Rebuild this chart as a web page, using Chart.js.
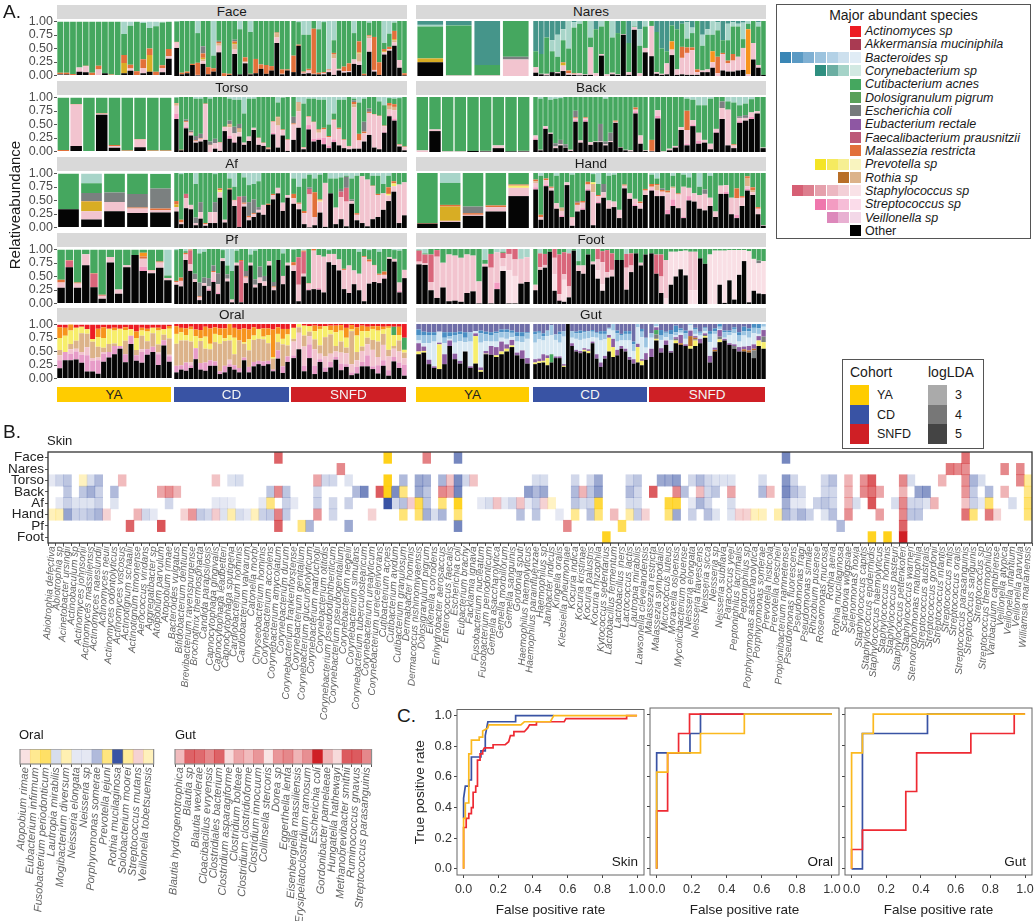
<!DOCTYPE html>
<html>
<head>
<meta charset="utf-8">
<script src="https://cdn.jsdelivr.net/npm/chart.js@4"></script>
<style>
    html, body { margin: 0; background: #fff; }
    #page { position: relative; width: 1035px; height: 922px; overflow: hidden; font-family: "Liberation Sans", Arial, sans-serif; color: #1a1a1a; }
    #page canvas { position: absolute; pointer-events: none; }
    .txt { position: absolute; white-space: nowrap; }
    .strip { position: absolute; background: #d9d9d9; text-align: center; font-size: 13.5px; line-height: 14px; height: 14px; }
    .coh { position: absolute; text-align: center; font-size: 13.5px; line-height: 16px; height: 15px; top: 387px; }
    .box { position: absolute; border: 1px solid #555; box-sizing: border-box; }
    .sw { position: absolute; }
</style>
</head>
<body>
<div id="page"></div>
<script>
// ---------- panel A data: percent per sample, groups are YA, CD, SNFD ----------
const faceOther = [[2,2,1,7,6,0,1,4,0,0,4,9,0,4,7,0,6,31], [51,3,5,20,1,22,3,8,43,0,2,40,3,23,3,5,13,4,10,60,3,10], [7,55,4,5,3,3,3,7,2,10,6,7,22,20,1,44,8,2,39,46,55,15,1]];
const faceStaph = [[1,0,0,8,11,0,10,0,0,0,0,4,0,10,0,0,8,5], [10,0,0,0,1,5,0,0,12,0,0,8,0,2,0,0,0,0,0,10,1,0], [0,0,2,5,1,0,2,3,30,2,3,2,8,6,0,25,3,0,4,3,6,14,0]];
const faceMal = [[2,3,2,0,1,5,7,0,2,1,15,7,8,16,12,7,5,13], [1,3,3,2,22,8,13,6,3,5,2,3,0,8,1,26,8,16,8,1,8,2], [30,2,2,3,82,3,2,2,2,1,8,14,0,20,3,2,60,23,4,4,15,0,4]];
const faceCory = [[0,0,0,0,0,0,0,0,0,0,23,8,0,3,12,9,2,0], [1,0,0,0,22,0,0,63,0,0,0,0,15,0,20,0,0,0,0,0,0,0], [0,2,25,25,0,15,2,88,35,0,0,0,22,0,0,3,0,0,40,23,3,0,0]];
const faceGold = [{10:19,14:31}, {5:3,11:2}, {13:2,18:2,20:2}];
const faceTan = [{}, {5:3,8:4,11:10,13:1,19:8}, {8:8,13:15,15:3,20:4}];
const faceGray = [{}, {5:13,8:2,11:3}, {}];

const torsoOther = [[0,10,0,68,7,0,8,1,0], [60,3,43,30,17,19,22,0,6,2,38,24,17,28,13,20,40,13,11,5,32,8,30,2], [22,44,5,41,19,22,14,7,18,12,7,5,6,6,19,31,8,5,35,65,57,10,3]];
const torsoStaph = [[0,77,0,2,3,1,14,0,1], [14,0,8,5,3,5,65,12,10,15,7,15,15,8,4,8,4,12,5,1,20,40,10,20], [28,30,3,15,30,10,15,15,35,30,15,5,75,15,15,40,60,60,10,10,15,3,6]];
const torsoMal = [[3,1,0,1,2,1,1,1,1], [1,1,2,1,1,1,1,1,0,1,1,1,0,1,0,0,0,1,1,2,1,1,1,1], [2,1,1,1,1,2,3,2,1,2,1,1,4,12,3,2,1,1,1,5,5,1,1]];
const torsoStrep = [{}, {0:10,2:3,11:6,12:2,20:3}, {3:8,4:5,5:3,6:12,7:5,8:5,18:2,19:2,20:4}];
const torsoGray = [{}, {2:3,3:3,4:8,5:8,7:6,8:8,11:6,12:12,13:8,21:0}, {0:12,12:3,14:18,15:6}];
const torsoTan = [{}, {0:4,11:5,13:6,21:15}, {1:15,5:4,12:6,19:7,20:6}];
const torsoCory = [[], [1,0,0,0,3,3,0,3,0,0,0,3,5,5,30,3,3,0,0,0,0,10,1,0], [0,10,12,3,3,5,5,50,30,5,5,0,3,10,3,0,0,8,15,2,3,2,0]];

const afOther = [[34,15,30,27,28], [30,7,36,34,5,17,4,9,9,55,10,70,40,2,39,14,20,28,24,42,52,63,31,55], [44,34,7,1,5,28,2,63,7,16,3,44,14,9,3,16,20,33,49,66,9,23]];
const afStaph = [[0,15,17,8,4], [8,3,18,8,4,12,3,20,20,10,5,0,10,0,5,5,5,5,18,0,8,10,15,5], [10,10,20,60,15,20,80,0,30,40,45,5,10,85,85,60,40,30,10,10,70,60]];
const afDark = [{}, {2:8,13:55}, {3:10,9:10,10:25}];
const afMal = [{1:1,3:2,4:3}, {0:6,1:5,6:2,9:3,11:2,12:1,14:2,15:3,16:2,19:2,20:2}, {0:8,1:2,2:4,4:45,5:2,12:3,15:1,16:2,18:12,19:4}];
const afGold = [{1:18}, {0:5}, {}];
const afYellow = [{}, {9:4}, {5:2,18:3,19:5}];
const afGray = [{1:15,2:18,3:25,4:37}, {4:10,5:18,8:18,14:12,15:25,16:25,17:5}, {3:3,9:5,10:20,11:3,13:0}];
const afCory = [{1:18,4:1}, {1:2,4:20,8:2,10:0,11:10,12:25,14:8,15:22,16:20,17:15}, [10,25,10,3,10,3,0,10,10,8,5,10,5,0,0,5,5,20,5,0,0,0]];

const pfOther = [[29,67,29,71,30,9,76,18,67,90,60,56,66,43], [35,32,80,60,40,7,33,24,40,18,78,41,3,70,3,38,70,30,38,33,70,25,80,36,70], [60,5,50,25,27,26,21,76,71,61,27,20,36,25,5,37,40,38,46,82,77,21,47]];
const pfStaph = [[10,0,8,20,0,5,10,8,4,0,15,5,10,4], [5,10,10,10,5,5,5,5,15,15,5,5,5,5,0,10,5,5,10,8,8,5,0,15,5], [10,30,5,10,70,60,65,15,20,20,35,50,25,30,80,40,30,15,5,3,5,15,15]];
const pfDark = [{1:12,4:25,5:1}, {3:25,14:75}, {1:50,2:40}];
const pfMal = [{0:5,1:1,2:2,4:1,5:1,10:4,11:1,12:2}, {0:2,1:6,2:3,3:2,5:2,8:2,14:2,15:2,21:2}, {0:6,2:2,3:1,4:3,10:2,14:2,15:4,16:1,17:2,18:6}];
const pfOrange = [{10:7}, {}, {}];
const pfStrep = [{10:8}, {3:2,7:3,8:3,9:3}, {3:2,5:3,18:2,21:3}];
const pfGray = [{}, {4:10,5:25,6:10,7:15,8:10,9:20,11:8,14:0,15:10,16:0,17:10,18:20,19:10,20:0,21:8}, {}];
const pfCory = [{13:48}, {0:2,2:4,3:2,5:8,6:5,10:2,11:30,12:40,13:3,16:10,17:3,23:8}, {0:1,2:3,7:2,13:5,15:2,17:5,20:2,21:3}];

const oralOther = [[19,34,34,35,29,13,13,9,31,39,45,55,30,64,33,29,44,49,25,61,31], [12,17,15,20,36,17,15,24,24,9,12,22,17,12,34,12,23,27,24,27,14,37,11,31], [38,54,14,38,9,31,13,21,35,16,22,7,10,23,23,18,10,24,6,32,20,6]];
const oralVeil = [[15,15,12,15,15,30,20,25,15,10,15,5,15,15,10,20,10,10,20,10,10], [12,8,15,5,20,12,15,10,8,5,12,5,8,8,5,10,8,6,8,6,3,15,12,10], [5,0,10,25,15,5,8,10,5,12,5,5,12,8,20,5,15,10,10,8,10,20]];
const oralStaph = [[9,0,8,5,5,15,5,5,3,0,0,0,0,0,0,5,0,0,3,0,3], [0,0,0,5,0,0,0,0,0,0,0,8,0,0,0,0,0,0,0,0,0,0,0,0], [25,30,35,15,30,10,20,15,10,20,20,15,12,20,20,30,15,28,25,15,20,12]];
const oralTan = [[10,0,10,15,35,25,30,20,8,15,5,0,25,0,10,25,15,25,15,10,30], [40,45,40,38,0,40,25,20,35,50,45,35,20,50,25,30,40,40,40,32,20,15,40,20], [5,10,20,8,18,15,35,35,10,20,10,60,15,8,12,18,28,20,12,5,20,10]];
const oralYellow = [[22,30,25,24,12,8,5,18,18,28,24,32,20,12,22,10,18,10,26,10,18], [18,15,10,22,22,5,22,10,15,16,5,10,30,0,3,20,8,18,5,15,3,15,10,20], [20,8,18,10,15,30,20,8,25,20,18,3,30,28,12,20,20,8,40,20,10,5]];
const oralOrange = [[20,15,12,0,0,0,0,15,20,0,5,0,5,0,12,5,5,0,5,0,5], [14,8,12,5,12,15,18,28,12,12,18,20,18,20,25,18,15,0,15,12,50,12,18,10], [0,0,0,0,10,5,0,8,12,10,18,8,15,10,8,5,8,5,3,0,15,0]];
const oralGreen = [{}, {}, {19:15,21:22}];

const naresOther = [[25,0,0,0], [6,3,1,7,5,9,2,2,1,2,2,0,37,0,3,2,75,2,84,0,43], [36,4,2,3,38,2,3,2,2,2,7,7,15,0,10,8,8,10,11,0,30,15,2]];
const naresStaph = [[0,1,1,30], [10,1,3,0,2,10,3,2,4,1,50,5,3,3,3,1,1,5,5,5,8], [55,3,2,20,10,10,30,40,45,5,3,5,10,5,30,15,20,25,40,3,30,5,0]];
const naresGold = [{0:7}, {5:5}, {}];
const naresGray = [{3:5}, {}, {}];
const naresOrange = [{}, {}, {4:15,12:20,19:82}];
const naresMal = [{}, {5:1,6:5,7:1}, {6:20,7:10,8:5,9:5,13:30,14:2,15:5,16:12}];
const naresCoryD = [[7,8,80,0], [55,60,30,35,25,15,0,2,0,0,0,15,0,0,0,22,0,40,0,15,0], [0,20,50,55,8,15,5,2,12,0,25,15,0,2,35,5,2,5,3,0,0,2,0]];
const naresCory = [[3,0,0,0], [0,0,0,20,40,20,50,10,5,0,30,0,10,0,30,0,0,0,10,30,10], [0,0,0,0,0,0,0,30,10,0,20,10,25,15,0,30,8,5,30,5,0,8,0]];

const backOther = [[0,38,0,0,2,1,7,1,1], [22,3,42,33,7,12,8,2,55,17,55,13,18,18,12,18,53,8,3,1,70,15,2], [1,61,0,3,8,40,12,47,15,17,5,35,60,12,7,53,57,60,70,7]];
const backStaph = [[3,3,1,1,0,1,5,0,1], [5,1,3,2,3,2,1,2,3,4,2,5,1,1,2,2,2,1,1,2,3,15,1], [1,10,1,3,3,5,25,8,15,5,10,5,20,65,5,6,5,8,4,1]];
const backMal = [{}, {8:2,10:2,16:2,20:4}, {0:20,6:35,14:2}];
const backStrep = [{}, {0:3,2:2,8:3,10:4,20:4}, {1:5,6:3,7:3,8:5,11:2,15:3,17:4}];
const backGray = [{}, {4:6,5:8,6:5,8:12,13:32,14:5,15:15}, {12:12,15:3,16:5}];
const backCory = [{}, {1:3,3:5,4:3,5:2,14:3}, {6:3,7:5,8:15,9:15,10:3,13:8,14:10,15:15,16:12,17:4}];

const handOther = [[8,11,22,30,58], [70,15,76,68,35,20,78,4,30,33,68,5,45,55,35,38,18,72,53,40,35,60], [68,58,58,25,40,36,18,50,48,35,32,40,20,62,62,25,18,40,68,60,25,4]];
const handStaph = [[0,2,2,8,15], [8,5,8,5,10,8,5,15,12,10,8,60,10,10,15,10,15,5,10,10,10,8], [5,10,8,30,20,25,55,15,15,25,30,15,10,15,12,30,30,15,5,5,10,1]];
const handStrep = [{}, {0:4,2:3,5:3,9:3,10:3,12:3,19:3}, {0:2,3:8,4:12,6:2,7:8,14:4,16:6,18:3}];
const handMal = [{0:1,1:3,2:3,3:3,4:2}, {0:3,1:4,2:3,3:2,7:1,8:4,9:3,10:5,12:2,17:2,20:3,21:3}, {0:5,1:2,2:3,3:3,5:2,16:18,17:3,18:3,19:5,20:3}];
const handGold = [{1:26}, {}, {}];
const handYellow = [{4:4}, {11:3}, {}];
const handTan = [{}, {0:3,5:6,11:15}, {1:10,3:2,4:3,18:15,19:4}];
const handGray = [{2:12}, {8:3,13:15}, {2:3,10:8}];
const handCory = [{1:18}, {1:5,4:5,7:3,11:2,12:20,14:5,15:3}, {0:3,1:10,4:5,6:3,7:8,9:25,11:5}];

const footOther = [[72,71,25,11,30,5,6,4,20,23,1,68,1,27,60,1,1,37,40], [25,62,66,95,24,6,4,12,97,60,55,90,72,46,24,48,50,80,80,26,58,92,70,90], [92,55,20,0,35,50,63,52,0,0,83,73,0,0,35,2,43,8,53,78,3,24,19,18]];
const footStaph = [[5,3,15,75,45,85,82,80,70,65,40,5,65,55,15,30,30,45,45], [10,5,5,0,30,10,10,20,0,10,15,0,5,20,40,10,12,0,0,40,12,0,5,0], [0,0,30,70,0,0,0,0,70,70,0,0,0,0,0,0,0,0,0,0,0,0,0,0]];
const footPale = [{14:8,15:60,16:50}, {4:30,6:40,13:15,14:12}, {3:10,4:60,5:45,6:33,7:45,8:25,9:25,12:90,13:97,14:62,15:95,16:55,17:90,18:45,19:20,20:93,21:58,22:55,23:60}];
const footStrep = [{13:12}, {5:2}, {}];
const footDark = [{0:20,1:16,2:50,3:12,12:25,14:10,15:60,16:60}, {1:25,2:20,4:40,5:72,6:40,7:60,13:30,14:20,15:40,16:30,19:25,20:22}, {1:35,2:40}];
const footCory = [{0:2,1:8,11:20,13:12,14:5,17:18,18:15}, {1:12,4:5,7:8,9:22,19:35}, {}];
const footGray = [{}, {4:5}, {22:5}];

const gutOther = [[45,48,27,20,18,27,60,36,28,50,20,28,13,45,44,40,45,50,58,43,37,28], [27,29,30,25,30,38,38,22,100,60,50,47,50,47,65,37,22,37,50,40,43,55,50,35,28,30,25,35], [40,70,48,62,48,65,62,60,55,60,65,75,30,50,67,70,62,55,50,50,48,38,60,55]];
const gutYellow = [{0:5,1:3,4:45,11:50,12:3,13:1,15:3,16:5,17:5,18:3}, {0:3,1:3,2:3,3:13,7:2,12:3,13:4,18:25,19:18,25:28,26:8}, {1:3,5:5,8:5,9:10,11:3,14:5,22:10,23:12}];
const gutPurple = [[15,8,8,3,3,18,10,10,5,0,3,5,5,5,16,15,18,8,10,5,15,10], [6,5,12,5,0,3,3,3,0,5,3,4,3,3,3,8,8,5,5,15,10,5,5,5,8,6,3,12], [15,5,8,8,3,3,15,3,10,3,8,3,12,4,12,3,3,3,8,5,8,8,8,12]];
const gutBlue1 = [[5,6,30,45,20,20,3,20,36,17,45,4,45,18,8,10,7,10,5,20,15,35], [30,35,25,35,35,30,25,50,0,10,20,20,17,20,8,30,40,30,10,15,15,10,15,30,15,30,40,10], [20,2,15,6,20,4,4,10,10,4,6,4,25,25,1,2,15,20,10,20,15,20,4,6]];
const gutBlue2 = [[10,14,15,12,0,10,5,14,12,8,17,0,17,12,12,15,10,12,8,10,10,10], [15,12,8,10,18,10,15,10,0,12,10,12,12,13,10,8,12,10,3,12,15,10,12,12,12,12,10,18], [8,5,8,8,10,5,5,10,8,8,5,5,15,5,5,10,5,8,12,8,12,10,10,5]];
const gutBlue3 = [[10,7,5,5,0,10,7,5,5,10,0,0,5,5,5,3,5,5,4,7,8,2], [5,3,5,0,0,0,5,0,0,0,3,5,2,0,3,2,5,5,0,5,5,2,5,5,5,5,5,0], [0,8,10,2,8,12,3,5,3,3,2,2,5,5,5,3,3,3,5,8,5,12,8,5]];
const gutGreen = [{}, {4:15,0:0}, {1:8}];
const gutBrown = [{}, {}, {6:3,8:18,9:3,13:3,19:4,20:4,21:3}];
const gutGray = [{}, {}, {1:8,5:3,9:2,11:2,14:5,17:5,21:14,23:10}];

// ---------- panel B data: [column, cohort, logLDA] per body site ----------
const skinSpecies = ["Abiotrophia defectiva","Abiotrophia sp","Acinetobacter ursingii","Actinobaculum sp","Actinomyces johnsonii","Actinomyces massiliensis","Actinomyces naeslundii","Actinomyces neuii","Actinomyces odontolyticus","Actinomyces viscosus","Actinotignum schaalii","Actinotignum timonense","Aerococcus viridans","Aggregatibacter sp","Atopobium parvulum","Atopobium rimae","Bacteroides vulgatus","Bifidobacterium dentium","Brevibacterium ravenspurgense","Brochothrix thermosphacta","Candida parapsilosis","Capnocytophaga gingivalis","Capnocytophaga leadbetteri","Capnocytophaga sputigena","Cardiobacterium hominis","Cardiobacterium valvarum","Catonella morbi","Chryseobacterium hominis","Corynebacterium accolens","Corynebacterium amycolatum","Corynebacterium durum","Corynebacterium frankenforstense","Corynebacterium genitalium","Corynebacterium glucuronolyticum","Corynebacterium matruchotii","Corynebacterium otitidis","Corynebacterium pseudodiphtheriticum","Corynebacterium pseudogenitalium","Corynebacterium negelii","Corynebacterium simulans","Corynebacterium tuberculostearicum","Corynebacterium urealyticum","Corynebacterium ureicelerivorans","Cutibacterium acnes","Cutibacterium avidum","Cutibacterium granulosum","Dermabacter hominis","Dermacoccus nishinomiyaensis","Dolosigranulum pigrum","Eikenella corrodens","Enhydrobacter aerosaccus","Enterococcus faecalis","Escherichia coli","Eubacterium brachy","Facklamia ignava","Fusobacterium nucleatum","Fusobacterium periodonticum","Gemella asaccharolytica","Gemella morbillorum","Gemella sanguinis","Gordonia sputi","Haemophilus haemolyticus","Haemophilus parainfluenzae","Haemophilus sp","Janibacter indicus","Kingella oralis","Klebsiella pneumoniae","Kocuria indica","Kocuria kristinae","Kocuria palustris","Kocuria rhizophila","Kytococcus sedentarius","Lactobacillus fermentum","Lactobacillus iners","Lactococcus lactis","Lautropia mirabilis","Lawsonella clevelandensis","Malassezia restricta","Malassezia sympodialis","Micrococcus luteus","Moraxella osloensis","Mycolicibacterium obuense","Neisseria elongata","Neisseria flavescens","Neisseria sicca","Neisseria sp","Neisseria subflava","Paracoccus yeei","Peptoniphilus lacrimalis","Peptoniphilus sp","Porphyromonas asaccharolytica","Porphyromonas somerae","Prevotella histicola","Prevotella loescheii","Propionibacterium namnetense","Pseudomonas fluorescens","Pseudomonas fragi","Pseudomonas simiae","Rhizobium pusense","Roseomonas mucosa","Rothia aeria","Rothia mucilaginosa","Scardovia wiggsiae","Selenomonas noxia","Staphylococcus capitis","Staphylococcus epidermidis","Staphylococcus haemolyticus","Staphylococcus hominis","Staphylococcus pasteuri","Staphylococcus pettenkoferi","Staphylococcus warneri","Stenotrophomonas maltophilia","Streptococcus australis","Streptococcus gordonii","Streptococcus infantis","Streptococcus mitis","Streptococcus oralis","Streptococcus parasanguinis","Streptococcus sanguinis","Streptococcus sp","Streptococcus thermophilus","Varibaculum cambriense","Veillonella atypica","Veillonella infantium","Veillonella parvula","Williamsia marianensis"];
const skinSites = ["Face","Nares","Torso","Back","Af","Hand","Pf","Foot"];
const faceCells = [[29,"S",4.1],[43,"Y",4.7],[48,"S",3.7],[52,"C",4.1],[94,"C",4.1],[117,"S",3.9]];
const naresCells = [[37,"S",3.6],[115,"S",3.8],[116,"S",3.6],[117,"S",3.5],[122,"S",3.6],[124,"S",3.6]];
const torsoCells = [[0,"C",2.4],[1,"C",2.75],[2,"C",3.0],[4,"Y",2.75],[5,"C",2.6],[6,"C",3.2],[9,"S",2.9],[21,"S",2.8],[23,"C",2.5],[24,"C",2.6],[34,"S",3.2],[35,"C",2.7],[36,"C",2.7],[38,"C",2.5],[43,"Y",4.7],[45,"C",3.2],[47,"C",3.5],[48,"C",3.4],[50,"C",3.3],[51,"S",2.8],[52,"C",4.0],[53,"C",2.7],[54,"S",2.8],[62,"C",2.6],[63,"C",2.6],[67,"C",2.7],[69,"C",2.7],[70,"C",3.5],[74,"C",2.7],[75,"C",3.0],[78,"C",3.5],[79,"C",3.5],[80,"C",3.7],[82,"C",2.7],[83,"C",3.2],[84,"C",2.7],[85,"C",2.5],[86,"C",2.5],[87,"C",2.5],[91,"C",2.6],[94,"C",3.8],[95,"C",2.7],[99,"C",2.7],[100,"C",3.1],[102,"S",3.0],[104,"S",3.5],[105,"S",4.2],[109,"S",3.6],[110,"C",2.6],[114,"S",3.0],[117,"S",3.5],[118,"C",3.3],[119,"C",2.6],[124,"S",3.6],[125,"Y",3.2]];
const backCells = [[2,"C",3.0],[4,"C",3.0],[5,"C",3.4],[6,"C",2.8],[8,"C",3.2],[14,"S",3.2],[15,"S",3.5],[16,"S",3.0],[28,"C",3.0],[29,"S",3.6],[30,"C",3.0],[34,"C",2.7],[39,"C",3.2],[40,"C",4.1],[42,"S",4.2],[43,"Y",4.7],[44,"C",4.0],[45,"Y",3.5],[47,"C",3.5],[48,"C",3.0],[50,"S",3.6],[51,"S",3.3],[52,"C",4.1],[61,"C",3.7],[62,"C",3.2],[63,"C",3.5],[67,"C",3.2],[68,"S",3.0],[69,"C",3.0],[70,"C",3.7],[74,"C",3.2],[75,"C",2.7],[77,"S",4.2],[80,"S",3.6],[81,"C",3.1],[83,"S",2.9],[84,"C",2.7],[85,"C",3.0],[87,"S",3.2],[91,"C",3.2],[92,"S",2.9],[94,"C",4.0],[95,"C",3.1],[96,"C",2.7],[99,"C",2.7],[100,"C",2.7],[102,"S",3.0],[104,"S",3.6],[105,"S",3.9],[106,"S",3.2],[109,"S",3.0],[111,"C",3.6],[112,"C",3.8],[117,"S",3.4],[118,"C",2.9],[120,"C",3.2],[122,"S",3.0],[125,"Y",3.4]];
const afCells = [[1,"C",2.4],[2,"C",2.8],[3,"C",2.5],[4,"C",2.5],[5,"C",2.5],[6,"C",2.8],[8,"C",2.5],[15,"C",2.7],[21,"C",2.4],[22,"C",2.4],[23,"C",2.3],[27,"C",2.4],[28,"Y",3.5],[30,"C",2.8],[31,"C",2.4],[34,"C",2.8],[36,"C",2.7],[38,"C",2.8],[43,"C",5],[44,"C",2.7],[45,"C",3.1],[46,"S",2.7],[47,"Y",4.1],[48,"C",3.0],[50,"Y",3.6],[52,"Y",4.6],[55,"C",2.4],[56,"C",2.6],[57,"S",2.8],[58,"C",2.4],[59,"C",2.7],[60,"S",2.8],[61,"C",2.4],[62,"C",2.8],[63,"S",2.6],[64,"Y",2.7],[67,"C",3.0],[68,"C",2.6],[69,"C",2.7],[70,"Y",4.3],[74,"C",2.6],[75,"C",2.6],[79,"Y",4.3],[80,"Y",4.3],[82,"C",2.4],[83,"C",3.3],[84,"C",2.7],[87,"C",2.6],[94,"C",3.4],[95,"C",2.4],[96,"C",2.4],[98,"C",2.8],[99,"C",3.0],[100,"C",2.7],[102,"S",3.0],[103,"C",2.6],[105,"S",4.3],[108,"C",2.6],[109,"S",3.6],[110,"C",2.7],[111,"C",2.7],[112,"C",2.5],[113,"S",3.0],[117,"S",2.8],[118,"C",2.8],[119,"C",2.4],[120,"Y",3.7],[123,"C",2.6],[125,"Y",3.7]];
const handCells = [[0,"Y",2.8],[1,"Y",2.9],[2,"C",3.6],[3,"C",2.8],[4,"C",2.8],[5,"C",3.0],[6,"C",3.3],[7,"S",2.6],[11,"S",3.0],[12,"C",2.7],[13,"C",2.4],[17,"S",2.6],[18,"S",3.4],[19,"C",2.9],[20,"C",2.7],[21,"S",2.7],[22,"C",2.5],[23,"Y",3.0],[24,"C",2.6],[25,"C",2.4],[26,"Y",2.8],[27,"C",2.8],[28,"C",2.9],[29,"S",3.7],[30,"C",2.9],[34,"S",3.4],[36,"C",2.7],[41,"S",2.6],[45,"Y",3.6],[47,"Y",3.7],[48,"C",3.4],[49,"C",2.6],[50,"C",3.3],[52,"Y",3.6],[60,"C",3.1],[62,"C",3.0],[65,"C",2.4],[67,"Y",3.3],[69,"C",3.1],[70,"Y",3.6],[72,"S",2.9],[74,"Y",3.1],[75,"C",2.9],[76,"S",2.6],[79,"Y",3.6],[80,"C",3.5],[82,"C",2.8],[84,"C",3.1],[85,"C",2.5],[87,"C",2.5],[88,"S",2.6],[89,"S",2.6],[90,"Y",2.8],[91,"Y",2.8],[93,"Y",3.0],[94,"C",3.3],[95,"C",2.8],[96,"C",3.3],[97,"C",2.8],[99,"C",2.5],[100,"C",3.1],[102,"S",3.5],[106,"S",3.3],[109,"S",3.6],[110,"C",3.0],[111,"C",3.0],[117,"S",3.9],[118,"Y",3.6],[120,"S",3.8],[121,"S",2.6],[125,"Y",3.6]];
const pfCells = [[10,"S",4.1],[14,"S",4.3],[29,"S",4.1],[32,"Y",3.5],[33,"C",3.3],[38,"C",3.5],[52,"C",4.1],[66,"S",3.6],[73,"Y",4.0],[101,"C",3.2],[109,"S",4.1]];
const footCells = [[71,"Y",4.6],[105,"Y",4.6],[107,"Y",4.7],[109,"S",5]];

const oralSpecies = ["Atopobium rimae","Eubacterium infirmum","Fusobacterium periodonticum","Lautropia mirabilis","Mogibacterium diversum","Neisseria elongata","Neisseria sp","Porphyromonas somerae","Prevotella jejuni","Rothia mucilaginosa","Solobacterium moorei","Streptococcus mutans","Veillonella tobetsuensis"];
const oralCohort = ["S","Y","Y","C","Y","C","C","C","Y","C","Y","S","Y"];
const oralLda = [2.4,3.3,3.8,2.6,2.9,2.4,2.4,3.2,3.5,5,3.2,2.6,2.8];
const gutSpecies = ["Blautia hydrogenotrophica","Blautia sp","Blautia wexlerae","Cloacibacillus evryensis","Clostridiales bacterium","Clostridium asparagiforme","Clostridium bolteae","Clostridium clostridioforme","Clostridium innocuum","Collinsella stercoris","Dorea sp","Eggerthella lenta","Eisenbergiella massiliensis","Erysipelatoclostridium ramosum","Escherichia coli","Gordonibacter pamelaeae","Hungatella hathewayi","Methanobrevibacter smithii","Ruminococcus gnavus","Streptococcus parasanguinis"];
const gutLda = [2.9,4.1,4.0,3.6,4.1,2.5,3.2,2.9,3.4,2.35,3.4,3.6,3.0,3.5,5,3.0,2.5,4.2,4.2,3.6];

// ---------- panel C data ----------
const rocSkinBlueX = [0,0,.01,.03,.03,.045,.045,.1,.1,.125,.125,.14,.3,.3,.52];
const rocSkinBlueY = [.33,.46,.54,.54,.58,.58,.73,.73,.77,.77,.87,.96,.96,1,1];
const rocSkinRedX = [0,0,.015,.015,.03,.03,.045,.045,.055,.055,.07,.07,.08,.08,.095,.095,.11,.11,.12,.17,.17,.24,.26,.27,.29,.29,.35,.37,.38,.42,.42,.58,.59,.94,.94,1];
const rocSkinRedY = [0,.27,.27,.33,.33,.36,.36,.4,.4,.5,.5,.54,.54,.71,.71,.75,.75,.77,.79,.79,.81,.81,.83,.87,.87,.895,.895,.92,.94,.94,.96,.96,.98,.98,1,1];
const rocSkinYellowX = [0,0,.01,.01,.03,.03,.045,.045,.09,.09,.11,.11,.14,.145,.33,.35,.5,.52,1];
const rocSkinYellowY = [0,.33,.33,.43,.43,.75,.75,.84,.84,.86,.86,.9,.92,.94,.94,.96,.96,1,1];
const rocOralBlueX = [0,0,.19,.19,.25,.25,1];
const rocOralBlueY = [0,.75,.75,.875,.875,1,1];
const rocOralRedX = [0,0,.0625,.0625,.125,.125,.1875,.1875,.5];
const rocOralRedY = [0,.375,.375,.75,.75,.875,.875,1,1];
const rocOralYellowX = [0,0,.0625,.0625,.25,.25,.5,.5,1];
const rocOralYellowY = [0,.625,.625,.75,.75,.875,.875,1,1];
const rocGutBlueX = [0,.0625,.0625,.4375,.4375,1];
const rocGutBlueY = [0,0,.875,.875,1,1];
const rocGutRedX = [0,0,.0625,.0625,.3125,.3125,.375,.375,.6875,.6875,.9375,.9375,1];
const rocGutRedY = [0,.125,.125,.25,.25,.5,.5,.75,.75,.875,.875,1,1];
const rocGutYellowX = [0,0,.0625,.0625,.125,.125,1];
const rocGutYellowY = [0,.75,.75,.875,.875,1,1];

const speciesNames = ["Actinomyces sp","Akkermansia muciniphila","Bacteroides sp","Corynebacterium sp","Cutibacterium acnes","Dolosigranulum pigrum","Escherichia coli","Eubacterium rectale","Faecalibacterium prausnitzii","Malassezia restricta","Prevotella sp","Rothia sp","Staphylococcus sp","Streptococcus sp","Veillonella sp","Other"];
const speciesShades = [["#ed1c24"],["#a93a52"],["#3a86b5","#5a9ac4","#7fb0d3","#9cc3de","#b3d1e6","#cde0ee","#e0ecf5"],["#2f8f80","#6baea2","#a5d3c8","#d2e9e2"],["#45a75f"],["#5aa15a"],["#767b7c"],["#8e57a3"],["#bd5a78"],["#e2703a"],["#f4e425","#f5ea60","#f6ef92","#f9f4bf"],["#b86f28","#dcb38a"],["#d65f74","#dd7e8e","#e5a0ac","#ecb7c1","#f3d0d7","#f9e2e7"],["#ef77ad","#f39cc2","#f6bdd7","#fbdcea"],["#dd88bb","#e8b0d2","#f3d8e8"],["#000000"]];

// ---------- helpers ----------
const page = document.getElementById("page");
Chart.defaults.font.family = '"Liberation Sans", Arial, sans-serif';
Chart.defaults.animation = false;

function addText(str, x, y, size, extra) {
    const d = document.createElement("div");
    d.className = "txt";
    d.textContent = str;
    d.style.left = x + "px";
    d.style.top = y + "px";
    d.style.fontSize = size + "px";
    if (extra) Object.assign(d.style, extra);
    page.appendChild(d);
    return d;
}

function addRect(cls, x, y, w, h, color) {
    const d = document.createElement("div");
    d.className = cls;
    d.style.left = x + "px";
    d.style.top = y + "px";
    d.style.width = w + "px";
    d.style.height = h + "px";
    if (color) d.style.background = color;
    page.appendChild(d);
    return d;
}

function addCanvas(x, y, w, h) {
    const c = document.createElement("canvas");
    c.width = w;
    c.height = h;
    c.style.left = x + "px";
    c.style.top = y + "px";
    c.style.width = w + "px";
    c.style.height = h + "px";
    page.appendChild(c);
    return c;
}

const framePlugin = {
    id: "frame",
    afterDraw(chart, args, opts) {
        if (!opts.color) return;
        const a = chart.chartArea, g = chart.ctx;
        g.save();
        g.strokeStyle = opts.color;
        g.lineWidth = opts.width || 1;
        g.strokeRect(a.left, a.top, a.right - a.left, a.bottom - a.top);
        g.restore();
    }
};

const cohortRgb = { Y: [255, 204, 0], C: [57, 83, 164], S: [207, 31, 37] };
function cellColor(cohort, lda) {
    const rgb = cohortRgb[cohort];
    const alpha = Math.min(1, (lda - 2) / 3);
    return `rgba(${rgb[0]},${rgb[1]},${rgb[2]},${alpha})`;
}

// ---------- panel A ----------
const stackOrder = [
    ["other", "#050505"], ["strep", "#f49ac1"], ["veil", "#e79cc8"], ["pale", "#f9dfe5"], ["staph", "#f2c4cf"],
    ["dark", "#d9667b"], ["tan", "#dcb38a"], ["gold", "#d8ad24"], ["yellow", "#f7ee6b"], ["mal", "#e2703a"],
    ["orange", "#f7941d"], ["gray", "#7b8080"], ["green", "#45a75f"], ["brown", "#b86f28"], ["purple", "#8e5ea2"], ["blue1", "#d9e9f3"],
    ["blue2", "#9cc5e2"], ["blue3", "#4a8fc4"], ["REST", null], ["cory", "#a8d5c9"], ["coryD", "#45958a"]
];

function barGroup(facet, g, x0, x1, top, showAxis) {
    const pad = 8, axisW = showAxis ? 40 : 0;
    const canvas = addCanvas(x0 - axisW, top - pad, x1 - x0 + axisW, 55 + pad * 2);
    const n = facet.other[g].length;
    const labels = facet.other[g].map((_, i) => i + 1);
    const datasets = [];
    stackOrder.forEach(([key, color]) => {
        if (key === "REST") {
            const rest = labels.map((_, i) => {
                let sum = 0;
                stackOrder.forEach(([k]) => { if (facet[k]) sum += facet[k][g][i] || 0; });
                return Math.max(0, 100 - sum) / 100;
            });
            datasets.push({ data: rest, backgroundColor: facet.rest });
        } else if (facet[key]) {
            const vals = [];
            for (let i = 0; i < n; i++) vals.push((facet[key][g][i] || 0) / 100);
            datasets.push({ data: vals, backgroundColor: color });
        }
    });
    datasets.forEach(d => { d.barPercentage = 0.9; d.categoryPercentage = 1; d.borderWidth = 0; });
    new Chart(canvas, {
        type: "bar",
        data: { labels, datasets },
        options: {
            responsive: false,
            layout: { padding: { top: pad, bottom: pad }, autoPadding: false },
            plugins: { legend: { display: false }, tooltip: { enabled: false } },
            scales: {
                x: { display: false, stacked: true },
                y: {
                    display: showAxis,
                    stacked: true,
                    min: 0,
                    max: 1,
                    afterFit: s => { if (showAxis) s.width = axisW; },
                    afterBuildTicks: s => { s.ticks = [0, 0.25, 0.5, 0.75, 1].map(v => ({ value: v })); },
                    border: { display: false },
                    grid: { drawOnChartArea: false, tickLength: 3, color: "#555" },
                    ticks: { autoSkip: false, color: "#4d4d4d", font: { size: 12.5 }, padding: 1, callback: v => v.toFixed(2) }
                }
            }
        }
    });
}

const greenRest = "#45a75f";
const leftFacets = [
    { name: "Face", top: 21, rest: greenRest, other: faceOther, staph: faceStaph, mal: faceMal, cory: faceCory, gold: faceGold, tan: faceTan, gray: faceGray },
    { name: "Torso", top: 97, rest: greenRest, other: torsoOther, staph: torsoStaph, mal: torsoMal, strep: torsoStrep, gray: torsoGray, tan: torsoTan, cory: torsoCory },
    { name: "Af", top: 173, rest: greenRest, other: afOther, staph: afStaph, dark: afDark, mal: afMal, gold: afGold, yellow: afYellow, gray: afGray, cory: afCory },
    { name: "Pf", top: 249, rest: greenRest, other: pfOther, staph: pfStaph, dark: pfDark, mal: pfMal, orange: pfOrange, strep: pfStrep, gray: pfGray, cory: pfCory },
    { name: "Oral", top: 324, rest: "#ed1c24", other: oralOther, veil: oralVeil, staph: oralStaph, tan: oralTan, yellow: oralYellow, orange: oralOrange, green: oralGreen }
];
const rightFacets = [
    { name: "Nares", top: 21, rest: greenRest, other: naresOther, staph: naresStaph, gold: naresGold, gray: naresGray, orange: naresOrange, mal: naresMal, coryD: naresCoryD, cory: naresCory },
    { name: "Back", top: 97, rest: greenRest, other: backOther, staph: backStaph, mal: backMal, strep: backStrep, gray: backGray, cory: backCory },
    { name: "Hand", top: 173, rest: greenRest, other: handOther, staph: handStaph, strep: handStrep, mal: handMal, gold: handGold, yellow: handYellow, tan: handTan, gray: handGray, cory: handCory },
    { name: "Foot", top: 249, rest: greenRest, other: footOther, staph: footStaph, pale: footPale, strep: footStrep, dark: footDark, cory: footCory, gray: footGray },
    { name: "Gut", top: 324, rest: "#6f6ea8", other: gutOther, yellow: gutYellow, purple: gutPurple, blue1: gutBlue1, blue2: gutBlue2, blue3: gutBlue3, green: gutGreen, brown: gutBrown, gray: gutGray }
];
const leftSpans = [[57, 172], [174, 290], [291, 406.5]];
const rightSpans = [[416, 530], [533, 648], [649, 766]];

function drawColumn(facets, spans, showAxis) {
    facets.forEach(f => {
        const s = addRect("strip", spans[0][0], f.top - 16, spans[2][1] - spans[0][0], 14);
        s.textContent = f.name;
        spans.forEach((sp, g) => barGroup(f, g, Math.round(sp[0]), Math.round(sp[1]), f.top, showAxis && g === 0));
    });
    ["YA", "CD", "SNFD"].forEach((name, i) => {
        const d = addRect("coh", spans[i][0], 387, spans[i][1] - spans[i][0] - 1, 15, ["#ffcc00", "#3953a4", "#cf1f25"][i]);
        d.textContent = name;
        d.style.color = i === 0 ? "#222" : "#f4f4f4";
    });
}
drawColumn(leftFacets, leftSpans, true);
drawColumn(rightFacets, rightSpans, false);

addText("A.", 3, 1, 19);
addText("B.", 3, 421, 19);
addText("C.", 397, 705, 19);
addText("Relativeabundance", 14, 205, 15, { transform: "translate(-50%,-50%) rotate(-90deg)" });

// species legend
addRect("box", 776, 4, 255, 235);
addText("Major abundant species", 0, 7, 14, { left: "776px", width: "255px", textAlign: "center" });
speciesNames.forEach((name, i) => {
    const y = 31 + i * 13.33;
    const shades = speciesShades[i];
    shades.forEach((col, k) => {
        addRect("sw", 850 - (shades.length - 1 - k) * 11.7, y - 5.5, 11, 11, col);
    });
    addText(name, 865, y - 7, 12.5, { fontStyle: name === "Other" ? "normal" : "italic" });
});

// cohort / logLDA legend
addRect("box", 842, 359, 142, 90);
addText("Cohort", 850, 364, 14);
addText("logLDA", 928, 364, 14);
["YA", "CD", "SNFD"].forEach((name, i) => {
    addRect("sw", 850, 385 + i * 19.5, 19, 19.5, ["#ffcc00", "#3953a4", "#cf1f25"][i]);
    addText(name, 877, 388 + i * 19.5, 12.5);
});
["3", "4", "5"].forEach((name, i) => {
    addRect("sw", 928, 385 + i * 19.5, 19, 19.5, ["#aaaaaa", "#777777", "#444444"][i]);
    addText(name, 955, 388 + i * 19.5, 12.5);
});

// ---------- panel B ----------
function heatAxisX(height, size) {
    return {
        stacked: true,
        afterFit: s => { s.height = height; },
        border: { display: false },
        grid: { drawOnChartArea: false, tickLength: 3, color: "#555" },
        ticks: { autoSkip: false, minRotation: 87, maxRotation: 87, padding: 0, color: "#5f5f5f", font: { size, style: "italic" } }
    };
}

function drawSkinHeat() {
    const plotH = 91, axisH = 190, padTop = 12, padRight = 13;
    const canvas = addCanvas(0, 452 - padTop, 1032 + padRight, plotH + axisH + padTop);
    const rows = [faceCells, naresCells, torsoCells, backCells, afCells, handCells, pfCells, footCells];
    const datasets = rows.map(cells => {
        const colors = skinSpecies.map(() => "rgba(0,0,0,0)");
        cells.forEach(([col, cohort, lda]) => { colors[col] = cellColor(cohort, lda); });
        return { data: skinSpecies.map(() => 1), backgroundColor: colors, barPercentage: 1, categoryPercentage: 1, borderWidth: 0 };
    });
    new Chart(canvas, {
        type: "bar",
        data: { labels: skinSpecies, datasets },
        options: {
            responsive: false,
            layout: { padding: { top: padTop, right: padRight }, autoPadding: false },
            plugins: { legend: { display: false }, tooltip: { enabled: false }, frame: { color: "#333", width: 1.3 } },
            scales: {
                x: heatAxisX(axisH, 10),
                y: {
                    stacked: true,
                    reverse: true,
                    min: 0,
                    max: 8,
                    afterFit: s => { s.width = 48; },
                    afterBuildTicks: s => { s.ticks = skinSites.map((_, i) => ({ value: i + 0.5 })); },
                    border: { display: false },
                    grid: { drawOnChartArea: false, tickLength: 3, color: "#555" },
                    ticks: { autoSkip: false, color: "#222", font: { size: 13.5 }, padding: 1, callback: v => skinSites[Math.floor(v)] }
                }
            }
        },
        plugins: [framePlugin]
    });
}
drawSkinHeat();
addText("Skin", 47, 433, 13);

function drawStripHeat(labels, colors, x0, x1) {
    const padLeft = 16, padRight = 8;
    const canvas = addCanvas(x0 - padLeft, 749, x1 - x0 + padLeft + padRight, 172);
    new Chart(canvas, {
        type: "bar",
        data: { labels, datasets: [{ data: labels.map(() => 1), backgroundColor: colors, barPercentage: 1, categoryPercentage: 1, borderWidth: 0 }] },
        options: {
            responsive: false,
            layout: { padding: { left: padLeft, right: padRight }, autoPadding: false },
            plugins: { legend: { display: false }, tooltip: { enabled: false }, frame: { color: "#8c8c8c", width: 1.2 } },
            scales: {
                x: heatAxisX(157, 11),
                y: { display: false, min: 0, max: 1 }
            }
        },
        plugins: [framePlugin]
    });
}
drawStripHeat(oralSpecies, oralSpecies.map((_, i) => cellColor(oralCohort[i], oralLda[i])), 19.5, 154);
drawStripHeat(gutSpecies, gutSpecies.map((_, i) => cellColor("S", gutLda[i])), 175, 372);
addText("Oral", 19, 727, 13);
addText("Gut", 175, 727, 13);

// ---------- panel C ----------
function xy(xs, ys) { return xs.map((x, i) => ({ x, y: ys[i] })); }

function drawRoc(series, name, x0, x1, withLabels) {
    const axisW = withLabels ? x0 - 412 : 14, padRight = 12;
    const canvas = addCanvas(x0 - axisW, 700, x1 - x0 + axisW + padRight, 222);
    const colors = ["#3953a4", "#ee2a33", "#fbb91f"];
    new Chart(canvas, {
        type: "scatter",
        data: {
            datasets: series.map((pts, i) => ({
                data: pts, showLine: true, borderColor: colors[i], borderWidth: 1.7, pointRadius: 0, tension: 0, clip: false, order: 2 - i
            }))
        },
        options: {
            responsive: false,
            layout: { padding: { top: 8, right: padRight }, autoPadding: false },
            plugins: { legend: { display: false }, tooltip: { enabled: false }, frame: { color: "#666", width: 1 } },
            scales: {
                x: {
                    min: -0.038,
                    max: 1.04,
                    afterFit: s => { s.height = 47; },
                    afterBuildTicks: s => { s.ticks = [0, 0.2, 0.4, 0.6, 0.8, 1].map(v => ({ value: v })); },
                    border: { display: false },
                    grid: { drawOnChartArea: false, tickLength: 3, color: "#444" },
                    ticks: { autoSkip: false, color: "#333", font: { size: 12.5 }, padding: 4, maxRotation: 0, callback: v => v.toFixed(1) },
                    title: { display: true, text: "False positive rate", color: "#222", font: { size: 13.5 }, padding: { top: 5 } }
                },
                y: {
                    min: -0.04,
                    max: 1.04,
                    afterFit: s => { s.width = axisW; },
                    afterBuildTicks: s => { s.ticks = [0, 0.2, 0.4, 0.6, 0.8, 1].map(v => ({ value: v })); },
                    border: { display: false },
                    grid: { drawOnChartArea: false, tickLength: 3, color: "#444" },
                    ticks: { autoSkip: false, display: withLabels, color: "#333", font: { size: 12.5 }, padding: 2, callback: v => v.toFixed(1) },
                    title: { display: withLabels, text: "True positive rate", color: "#222", font: { size: 13.5 }, padding: 0 }
                }
            }
        },
        plugins: [framePlugin]
    });
    addText(name, 0, 854, 13.5, { left: (x1 - 60) + "px", width: "54px", textAlign: "right" });
}

drawRoc([xy(rocSkinBlueX, rocSkinBlueY), xy(rocSkinRedX, rocSkinRedY), xy(rocSkinYellowX, rocSkinYellowY)], "Skin", 457, 644, true);
drawRoc([xy(rocOralBlueX, rocOralBlueY), xy(rocOralRedX, rocOralRedY), xy(rocOralYellowX, rocOralYellowY)], "Oral", 650, 839, false);
drawRoc([xy(rocGutBlueX, rocGutBlueY), xy(rocGutRedX, rocGutRedY), xy(rocGutYellowX, rocGutYellowY)], "Gut", 845, 1032, false);
</script>
</body>
</html>
